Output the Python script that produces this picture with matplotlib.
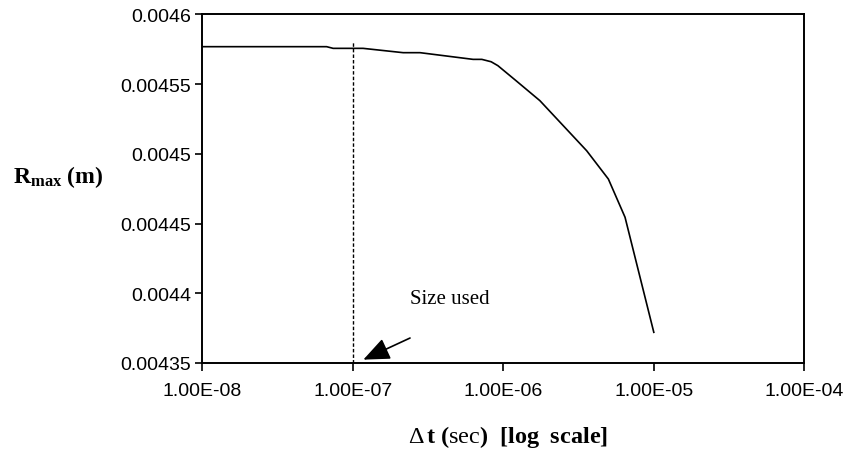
import matplotlib
matplotlib.use("Agg")
import matplotlib.pyplot as plt
from matplotlib.ticker import NullLocator

# Time step (s) and maximum radius (m)
dt_values = [1.0e-8, 6.7e-8, 7.4e-8, 1.17e-7, 2.16e-7, 2.8e-7, 6.3e-7, 7.2e-7,
             8.3e-7, 9.2e-7, 1.2e-6, 1.75e-6, 3.58e-6, 4.99e-6, 6.44e-6, 1.0e-5]
r_max = [0.0045768, 0.0045768, 0.0045756, 0.0045756, 0.0045725, 0.0045725,
         0.0045677, 0.0045677, 0.0045660, 0.0045632, 0.0045529, 0.0045381,
         0.0045022, 0.0044819, 0.0044545, 0.0043720]

x_ticks = [1e-8, 1e-7, 1e-6, 1e-5, 1e-4]
x_tick_labels = ["1.00E-08", "1.00E-07", "1.00E-06", "1.00E-05", "1.00E-04"]
y_ticks = [0.00435, 0.0044, 0.00445, 0.0045, 0.00455, 0.0046]
y_tick_labels = ["0.00435", "0.0044", "0.00445", "0.0045", "0.00455", "0.0046"]

dt_used = 1e-7
annotation_text = "Size used"

plt.rcParams["mathtext.fontset"] = "custom"
plt.rcParams["mathtext.rm"] = "Liberation Serif"
plt.rcParams["mathtext.it"] = "Liberation Serif:italic"
plt.rcParams["mathtext.bf"] = "Liberation Serif:bold"

fig = plt.figure(figsize=(8.54, 4.52), dpi=100)
ax = fig.add_axes([0.2369, 0.1947, 0.7049, 0.7714])

ax.plot(dt_values, r_max, color="black", linewidth=1.2)
ax.plot([dt_used, dt_used], [0.00435, 0.0045804], color="black",
        linewidth=1.0, linestyle=(0, (2.5, 1.5)))

ax.set_xscale("log")
ax.set_xlim(1e-8, 1e-4)
ax.set_ylim(0.00435, 0.0046)
ax.xaxis.set_minor_locator(NullLocator())
ax.set_xticks(x_ticks)
ax.set_xticklabels(x_tick_labels, family="Liberation Sans", fontsize=14)
ax.set_yticks(y_ticks)
ax.set_yticklabels(y_tick_labels, family="Liberation Sans", fontsize=14)
ax.tick_params(axis="x", direction="out", length=5.5, width=1.2, pad=8)
ax.tick_params(axis="y", direction="out", length=5, width=1.2, pad=3)
for sp in ax.spines.values():
    sp.set_linewidth(1.4)
    sp.set_color("black")

# annotation
ax.text(2.4e-7, 0.0043966, annotation_text, family="Liberation Serif",
        fontsize=15, ha="left", va="center")
ax.annotate("", xy=(1.175e-7, 0.0043524), xytext=(2.4e-7, 0.0043679),
            arrowprops=dict(arrowstyle="-|>,head_length=0.9,head_width=0.38",
                            mutation_scale=18, color="black", lw=1.2,
                            shrinkA=0, shrinkB=0))

# axis titles
fig.text(12.7 / 854, 1 - 177 / 452, r"$\mathbf{R_{max}\ (m)}$", fontsize=17,
         ha="left", va="center")
fig.text(508 / 854, 1 - 437 / 452,
         r"$\Delta\,\mathbf{t}\ \mathbf{(}\mathrm{sec}\mathbf{)}\ \ \mathbf{[log\ \ scale]}$",
         fontsize=17.5, ha="center", va="center")

fig.savefig("out.png", dpi=100)
